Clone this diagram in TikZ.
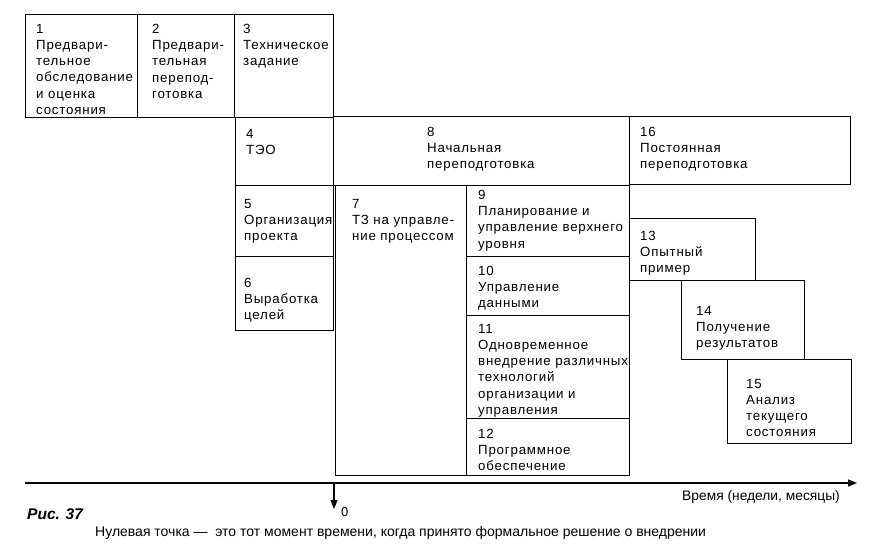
\documentclass[tikz,border=0pt]{standalone}
\usepackage{fontspec}
\setmainfont{Liberation Sans}
\newfontfamily\boxfont[LetterSpace=6]{Liberation Sans}
\usetikzlibrary{arrows.meta}
\begin{document}
\begin{tikzpicture}[x=1pt,y=-1pt,
  box/.style={draw,line width=1.2pt,inner sep=0pt},
  txt/.style={anchor=north west,inner sep=0pt,align=left,
    font=\boxfont\fontsize{13.3}{16.2}\selectfont},
  axisline/.style={line width=1.1pt,-{Triangle[length=9pt,width=7pt]}}]
\useasboundingbox (0,0) rectangle (879,550);
% boxes
\newcommand\bx[5]{\node[box,anchor=north west,minimum width={(#4-#2)*1pt},minimum height={(#5-#3)*1pt}] (#1) at (#2,#3) {};}
\bx{b1}{25}{14}{137}{117}
\bx{b2}{137}{14}{234}{117}
\bx{b3}{234}{14}{333}{117}
\bx{b4}{235}{117}{333}{185}
\bx{b8}{333}{116}{629}{185}
\bx{b16}{629}{116}{850}{184}
\bx{b5}{235}{185}{333}{256}
\bx{b6}{235}{256}{333}{330}
\bx{b7}{335}{185}{466}{475}
\bx{b9}{466}{185}{629}{256}
\bx{b10}{466}{256}{629}{315}
\bx{b11}{466}{315}{629}{418}
\bx{b12}{466}{418}{629}{475}
\bx{b13}{629}{218}{755}{280}
\bx{b14}{681}{280}{804}{359}
\bx{b15}{727}{359}{851}{443}
% texts
\node[txt] (t1) at (36,24) {1\\Предвари-\\тельное\\обследование\\и оценка\\состояния};
\node[txt] (t2) at (152,24) {2\\Предвари-\\тельная\\перепод-\\готовка};
\node[txt] (t3) at (243,24) {3\\Техническое\\задание};
\node[txt] (t4) at (246,129) {4\\ТЭО};
\node[txt] (t8) at (427,127) {8\\Начальная\\переподготовка};
\node[txt] (t16) at (640,127) {16\\Постоянная\\переподготовка};
\node[txt] (t5) at (244,199) {5\\Организация\\проекта};
\node[txt] (t6) at (244,278) {6\\Выработка\\целей};
\node[txt] (t7) at (352,199) {7\\ТЗ на управле-\\ние процессом};
\node[txt] (t9) at (478,190) {9\\Планирование и\\управление верхнего\\уровня};
\node[txt] (t10) at (478,266) {10\\Управление\\данными};
\node[txt] (t11) at (478,324) {11\\Одновременное\\внедрение различных\\технологий\\организации и\\управления};
\node[txt] (t12) at (478,429) {12\\Программное\\обеспечение};
\node[txt] (t13) at (640,231) {13\\Опытный\\пример};
\node[txt] (t14) at (696,306) {14\\Получение\\результатов};
\node[txt] (t15) at (746,379) {15\\Анализ\\текущего\\состояния};
% axis
\coordinate (a0) at (25,483);
\coordinate (a1) at (857,483);
\coordinate (z0) at (334,483);
\coordinate (z1) at (334,509);
\draw[axisline] (a0) -- (a1);
\draw[axisline] (z0) -- (z1);
\node[anchor=west,inner sep=0pt,font=\fontsize{13}{15}\selectfont] (zero) at (341,512) {0};
\node[anchor=east,inner sep=0pt,font=\fontsize{13.8}{15}\selectfont] (tlab) at (840,497) {Время (недели, месяцы)};
\node[anchor=west,inner sep=0pt,font=\bfseries\itshape\fontsize{15.5}{17}\selectfont] (fig) at (27,514) {Рис. 37};
\node[anchor=west,inner sep=0pt,font=\fontsize{14}{16}\selectfont] (cap) at (95,533) {Нулевая точка —\ \ это тот момент времени, когда принято формальное решение о внедрении};
\end{tikzpicture}
\end{document}
